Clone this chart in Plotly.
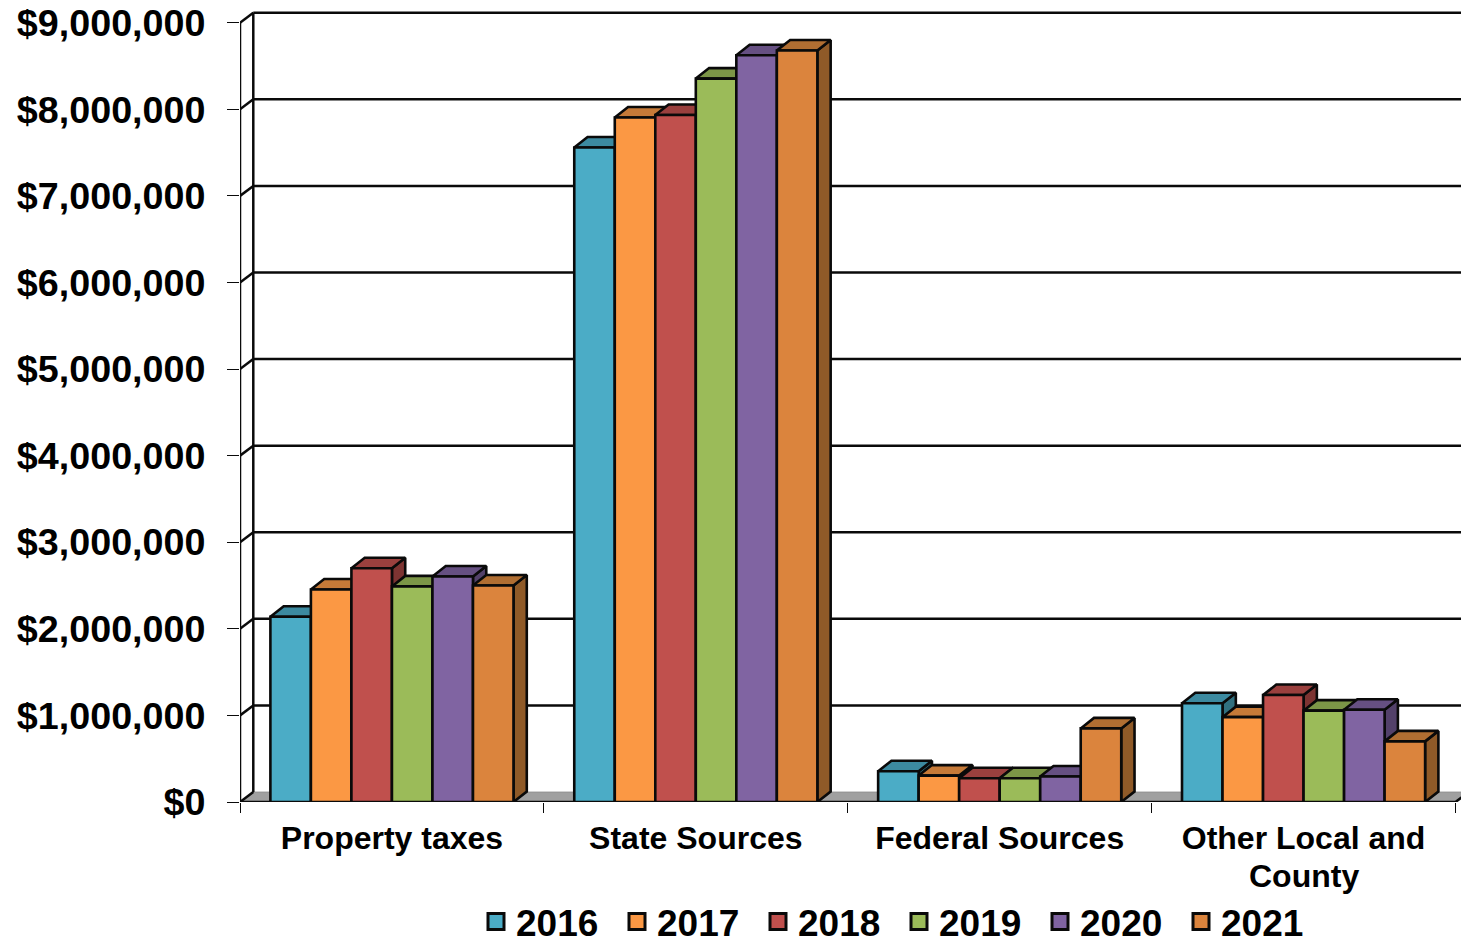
import plotly.graph_objects as go

# Revenue by source, one list per fiscal year
categories = ["Property taxes", "State Sources", "Federal Sources", "Other Local and"]
years = ["2016", "2017", "2018", "2019", "2020", "2021"]
values_2016 = [2140000, 7560000, 355000, 1140000]
values_2017 = [2455000, 7905000, 305000, 980000]
values_2018 = [2700000, 7935000, 275000, 1235000]
values_2019 = [2490000, 8355000, 275000, 1055000]
values_2020 = [2605000, 8625000, 295000, 1065000]
values_2021 = [2500000, 8680000, 850000, 700000]
series = [values_2016, values_2017, values_2018, values_2019, values_2020, values_2021]
y_ticks = list(range(0, 10000000, 1000000))
y_labels = [f"${v:,}" for v in y_ticks]

front_colors = ["#4BACC6", "#FB9844", "#C0504D", "#9BBB59", "#8064A2", "#DB843D"]
top_colors = ["#3C8AA0", "#C67A38", "#9A403E", "#7C9647", "#665082", "#B06E32"]
side_colors = ["#31707F", "#A3622C", "#7D3432", "#657A3A", "#53416A", "#8F5A28"]

INK = "#0a0a0a"
FONT = "Liberation Sans"

# Canvas layout in pixels
WIDTH, HEIGHT = 1461, 940
LEFT, BASE = 239.5, 801.7
CAT_PX = 304.0
PX_PER_UNIT = 86.55 / 1e6

# Oblique projection of the chart depth, converted to axis units
DEPTH_X = 13.3 / CAT_PX
WALL_DEPTH_Y = 10.0 / PX_PER_UNIT
BAR_DEPTH_Y = 10.5 / PX_PER_UNIT
BAR_W = 1 / 7.5
X_MAX = (WIDTH - LEFT) / CAT_PX
Y_MAX = BASE / PX_PER_UNIT
N_CAT = len(categories)

fig = go.Figure()


def polygon(xs, ys, fill, line_width=2.6, line_color=INK):
    fig.add_trace(go.Scatter(
        x=xs + xs[:1], y=ys + ys[:1], mode="lines", fill="toself", fillcolor=fill,
        line=dict(color=line_color, width=line_width), hoverinfo="skip", showlegend=False,
    ))


def stroke(xs, ys, width=2.5):
    fig.add_trace(go.Scatter(
        x=xs, y=ys, mode="lines", line=dict(color=INK, width=width),
        hoverinfo="skip", showlegend=False,
    ))


# Floor
polygon([0, N_CAT, N_CAT + DEPTH_X, DEPTH_X], [0, 0, WALL_DEPTH_Y, WALL_DEPTH_Y], "#A0A0A0", 0.8, "#8a8a8a")

# Back wall gridlines and the side wall
for tick in y_ticks:
    if tick > 0:
        stroke([DEPTH_X, X_MAX + 1], [tick + WALL_DEPTH_Y, tick + WALL_DEPTH_Y])
    stroke([0, DEPTH_X], [tick, tick + WALL_DEPTH_Y])
stroke([DEPTH_X, DEPTH_X], [WALL_DEPTH_Y, y_ticks[-1] + WALL_DEPTH_Y])
stroke([0, 0], [0, y_ticks[-1]])
stroke([0, N_CAT, N_CAT + DEPTH_X], [0, 0, WALL_DEPTH_Y])

# Bars, left to right so that each front face covers its neighbour's side
for c in range(N_CAT):
    start = c + 0.75 * BAR_W
    for s, values in enumerate(series):
        v = values[c]
        x0 = start + s * BAR_W
        x1 = x0 + BAR_W
        polygon([x1, x1 + DEPTH_X, x1 + DEPTH_X, x1], [0, BAR_DEPTH_Y, v + BAR_DEPTH_Y, v], side_colors[s])
        polygon([x0, x1, x1 + DEPTH_X, x0 + DEPTH_X], [v, v, v + BAR_DEPTH_Y, v + BAR_DEPTH_Y], top_colors[s])
        polygon([x0, x1, x1, x0], [0, 0, v, v], front_colors[s])

# Legend entries
for s, year in enumerate(years):
    fig.add_trace(go.Scatter(
        x=[None], y=[None], mode="markers", name=year,
        marker=dict(symbol="square", size=18, color=front_colors[s], line=dict(color=INK, width=3)),
    ))

fig.add_annotation(
    x=3.5, xref="x", y=0, yref="paper", yanchor="middle", yshift=-74, showarrow=False,
    text="County", font=dict(family=FONT, size=32, color="black", weight="bold"),
)

fig.update_layout(
    width=WIDTH, height=HEIGHT,
    margin=dict(l=LEFT, r=0, t=0, b=HEIGHT - BASE, pad=0),
    paper_bgcolor="white", plot_bgcolor="white",
    font=dict(family=FONT, color="black"),
    xaxis=dict(
        range=[0, X_MAX], showgrid=False, zeroline=False, showline=False,
        tickmode="array", tickvals=[c + 0.5 for c in range(N_CAT)], ticktext=categories,
        ticks="", ticklen=0, ticklabelstandoff=14,
        tickfont=dict(family=FONT, size=32, color="black", weight="bold"),
        minor=dict(tickmode="array", tickvals=list(range(N_CAT + 1)), ticks="outside",
                   ticklen=10, tickwidth=1.2, tickcolor=INK, showgrid=False),
    ),
    yaxis=dict(
        range=[0, Y_MAX], showgrid=False, zeroline=False, showline=False,
        tickmode="array", tickvals=y_ticks, ticktext=y_labels,
        ticks="outside", ticklen=12, tickwidth=1.2, tickcolor=INK, ticklabelstandoff=14,
        tickfont=dict(family=FONT, size=37.7, color="black", weight="bold"),
    ),
    legend=dict(
        orientation="h", xref="container", yref="container",
        x=476 / WIDTH, y=(HEIGHT - 922) / HEIGHT, xanchor="left", yanchor="middle",
        font=dict(family=FONT, size=37, color="black", weight="bold"),
        entrywidth=96, entrywidthmode="pixels", itemsizing="trace", tracegroupgap=0,
        bgcolor="rgba(0,0,0,0)",
    ),
    showlegend=True,
)

fig.write_html("out.html")
